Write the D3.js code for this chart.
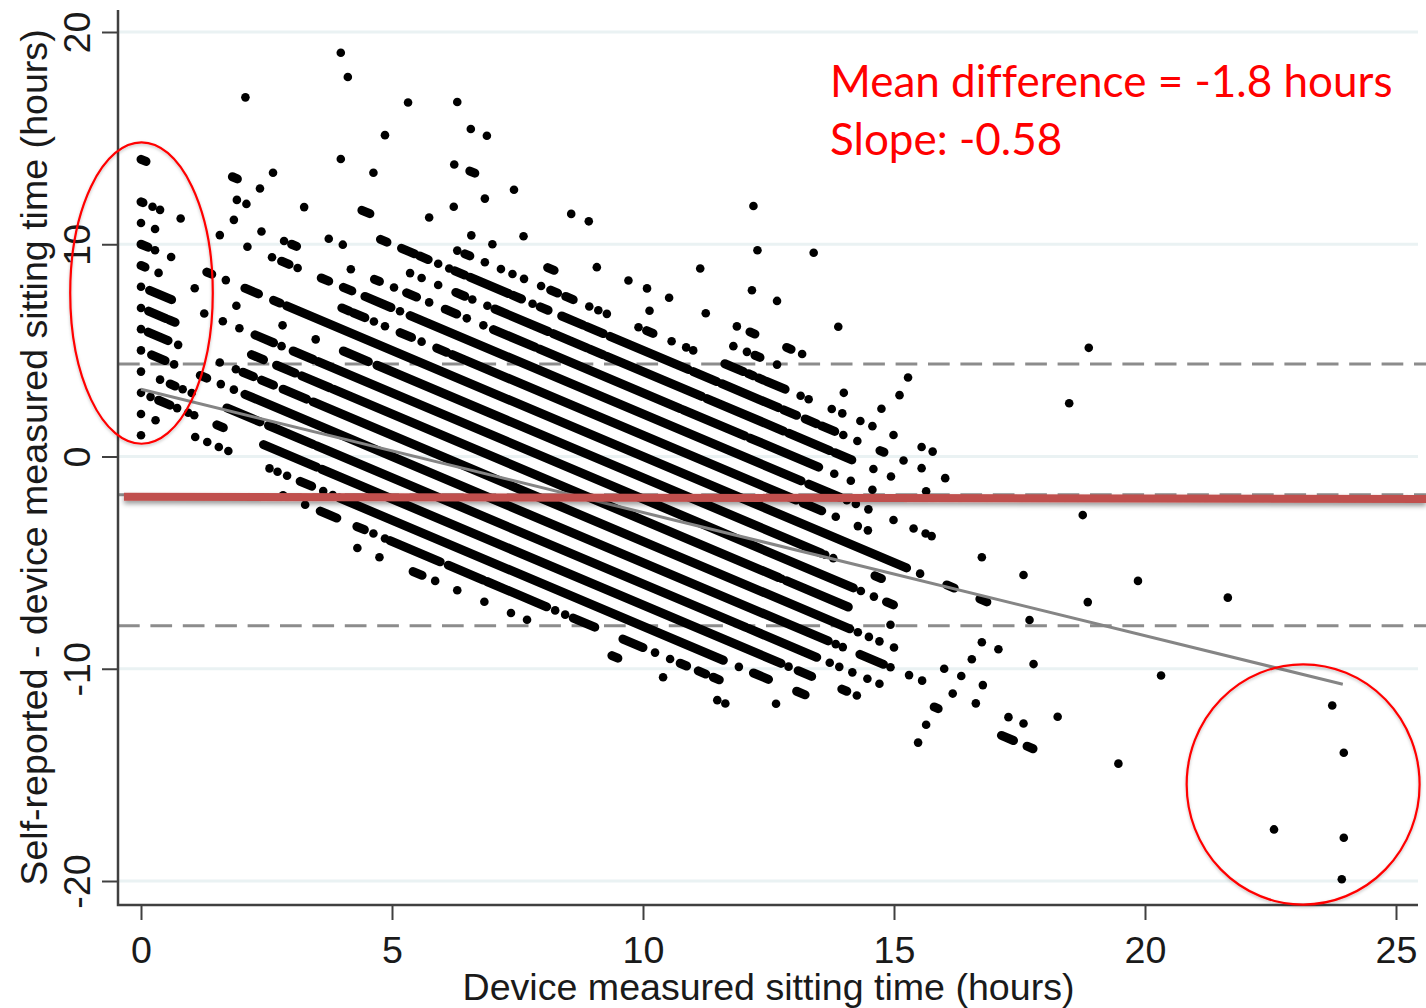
<!DOCTYPE html>
<html>
<head>
<meta charset="utf-8">
<script src="https://d3js.org/d3.v7.min.js"></script>
<style>
  html, body { margin: 0; padding: 0; background: #fff; overflow: hidden; }
  text { font-family: "Liberation Sans", Arial, sans-serif; fill: #1a1a1a; }
  .note { font-family: Lato, "Open Sans", sans-serif; fill: #ff0000; font-variant-ligatures: none; }
</style>
</head>
<body>
<div id="chart"></div>
<script>
// Self-reported hours: every point sits on a diagonal, difference = reported - device
const reportedHours = [0, 1, 2, 3, 4, 5, 6, 7, 8, 9, 10, 11, 12, 13, 14, 15, 16, 17, 18, 19, 20, 21, 22, 23, 24];

// Device hours per reported value, a number is one point, a pair is a run of touching points
const deviceHours = [
  [4.31, 4.75, [5.42, 5.6], 5.86, 6.3, 6.84, 7.37, 7.69, [9.38, 9.5], 10.4, 11.48, 11.64],
  [0, 2.83, 3.27, [3.57, 3.9], [4.3, 4.45], 4.63, 4.86, [4.96, 5.96], [6.12, 6.82], [6.89, 8.08], 8.25, 8.45, [8.61, 9.04], [9.6, 10], 10.24, 10.54, [10.74, 10.87], [11.1, 11.25], [11.4, 11.52], 12.65],
  [0, 0.29, 1.08, 1.32, 1.55, 1.74, 2.56, 2.72, 2.91, [3.17, 3.4], 3.63, 3.82, [3.95, 11.6], 11.91, [12.2, 12.5], [13.06, 13.23], 15.48],
  [0, 0.19, [0.35, 0.58], 0.72, 0.94, 1.06, [1.51, 1.64], [2.44, 3.5], [3.6, 12.75], 12.9, [13.09, 13.36], [13.96, 14.06], 14.26, 15.64],
  [0, 0.38, [0.58, 0.68], 0.83, 1.01, [1.71, 2.37], [2.54, 3.43], [3.5, 12.05], [12.1, 13.46], 13.72, 13.91, 14.17, 14.47, 14.71, [15.8, 15.88], [17.14, 17.38], [17.65, 17.77], 23.92],
  [0, [0.21, 0.48], 0.66, [1.18, 1.31], 1.59, 1.85, [2.07, 13.69], 13.84, 13.98, [14.32, 14.79], 14.93, 15.3, 15.56, 16.17, 16.63, 17.28, 17.58, 19.47, 22.57],
  [0, [0.14, 0.54], 0.74, 1.57, 1.89, [2.03, 2.24], [2.4, 2.64], [2.83, 3.3], [3.43, 14.12], 14.28, 14.5, 14.71, 15, 16, 16.34, 16.77, 18.26, 23.96],
  [0, [0.15, 0.5], [0.56, 0.68], [2.2, 2.44], [2.7, 3.07], [3.2, 3.76], [3.83, 12.7], 12.76, [12.85, 14.09], 14.93, 16.55],
  [0, [0.17, 0.61], 1.26, 1.63, 1.96, [2.27, 2.64], 2.8, [3.03, 3.43], [3.53, 14.19], 14.34, 14.6, [14.85, 14.99], 16.75, 17.08, 17.78],
  [[0, 0.08], 0.35, 1.07, 1.9, 2.82, 3.48, [4.03, 4.53], [4.7, 13.55], 13.63, 13.79, [14.62, 14.75]],
  [[0, 0.14], 0.28, 0.6, [1.31, 1.41], 1.69, [2.07, 2.34], [2.64, 2.77], [2.9, 15.25], 15.52, [16.05, 16.2], [16.71, 16.85], 17.7, 20.32, 23.96],
  [0, 0.28, [4, 4.15], [4.23, 4.46], 4.64, 4.86, [5.16, 5.39], 5.59, [5.89, 6.09], [6.2, 13.05], [13.19, 13.56], 13.84, 14.28, 14.48],
  [[0, 0.04], 0.23, 0.38, 0.79, 1.57, 2.12, 2.61, [2.8, 2.95], 3.12, [3.59, 3.74], [4.03, 4.2], [4.46, 4.98], 5.16, [5.36, 13.15], [13.3, 13.92], 14.06, 14.24, 14.49, 14.99, 15.39, 15.63, 15.75, 16.75, 17.58, 18.86, 23.73],
  [1.85, 2.4, 2.85, [3, 3.1], 4.18, [4.65, 4.75], 5.04, [5.29, 5.49], 5.74, [6.06, 6.29], 6.49, 6.82, [7.02, 7.85], [7.93, 10.74], [10.8, 12.03], [12.13, 13.5], 13.81, 14.14, 14.57],
  [[0, 0.1], 1.91, 2.1, 3.74, 4.02, 5.36, 5.59, 5.92, [6.27, 6.45], 6.6, 6.9, [7.05, 8.11], [8.21, 8.88], [8.94, 9.21], [9.28, 11.17], [11.27, 12.8], [12.9, 13.72], [13.82, 14.16], 14.59, 14.94, 15.64, 19.86],
  [[1.82, 1.92], 2.37, 3.25, [4.77, 4.9], [5.19, 5.45], [5.55, 5.72], 5.92, 6.14, [6.25, 6.45], [6.55, 7.32], [7.4, 7.58], 7.8, [7.95, 8.11], [8.38, 8.81], [8.88, 9.21], [9.34, 10.9], [11, 11.47], [11.57, 12.7], [12.8, 13.06], [13.23, 13.46], [13.56, 13.82], 13.99, 14.27, [14.72, 14.8], 15.19, 15.55, 16.02, 21.65],
  [2.63, [4.4, 4.56], 6.3, [6.45, 6.55], 6.85, 7.17, 7.4, 7.63, 7.97, [8.16, 8.3], [8.46, 8.61], 8.93, 9.11, 9.28, 9.91, [10.07, 10.2], 10.57, 10.86, 11, [11.63, 12], [12.1, 12.2], [12.3, 12.4], [12.46, 12.83], 13.14, 13.3, 13.76, 13.97, 14.33, 14.57, 14.99, 15.55, 15.77, 18.76],
  [5.74, 6.58, 7, [8.1, 8.23], 10.13, 11.8, 12.07, [12.23, 12.33], 12.67, 14, 14.75],
  [3.98, 4.63, 6.23, 7.62, 9.08, 9.71, 10.08, 10.52, 11.25, 11.87, [12.13, 12.23], [12.86, 12.95], 13.17, 15.11],
  [2.08, 6.85, 15.28],
  [4.86, 6.24, [6.55, 6.65], 7.43, 8.57, 8.92, 11.14, 12.17, 12.67, 13.89],
  [18.49],
  [4.12, 5.32, 6.57, 6.89, 12.28],
  [3.98, 6.3, 13.4],
  [12.2, 18.88]
];

const xTicks = [0, 5, 10, 15, 20, 25];
const yTicks = [-20, -10, 0, 10, 20];
const limitsOfAgreement = [4.36, -7.97];
const meanDifference = -1.8;
const fitX = [0, 23.94];
const fitY = [3.17, -10.73];
const meanBarX = [-0.34, 25.6];
const meanBarY = [-1.9, -2];

const noteLines = ["Mean difference = -1.8 hours", "Slope: -0.58"];
const xTitle = "Device measured sitting time (hours)";
const yTitle = "Self-reported - device measured sitting time (hours)";

const width = 1426;
const height = 1008;
const axisLeft = 118;
const axisRight = 1418;
const axisBottom = 905;
const axisTop = 10;

const x = d3.scaleLinear().domain([0, 25]).range([141, 1396]);
const y = d3.scaleLinear().domain([-20, 20]).range([881, 32]);

// Split each row into single points and runs
const singles = [];
const runs = [];
reportedHours.forEach((reported, i) => {
  deviceHours[i].forEach(d => {
    if (Array.isArray(d)) {
      runs.push({ reported, from: d[0], to: d[1] });
    } else {
      singles.push({ reported, device: d });
    }
  });
});

const svg = d3.select("#chart").append("svg")
  .attr("width", width)
  .attr("height", height)
  .style("display", "block");

const defs = svg.append("defs");
const addShadow = (id, dy, blur, opacity) => {
  defs.append("filter").attr("id", id)
    .attr("filterUnits", "userSpaceOnUse")
    .attr("x", 0).attr("y", 0).attr("width", width).attr("height", height)
    .append("feDropShadow")
    .attr("dx", 0).attr("dy", dy).attr("stdDeviation", blur)
    .attr("flood-color", "#000").attr("flood-opacity", opacity);
};
addShadow("shadow", 3, 2.5, 0.4);
addShadow("ringShadow", 1.5, 1.5, 0.25);

// Grid lines
svg.append("g").selectAll("line")
  .data(yTicks)
  .join("line")
  .attr("x1", axisLeft)
  .attr("x2", axisRight)
  .attr("y1", d => y(d))
  .attr("y2", d => y(d))
  .attr("stroke", "#eaf2f3")
  .attr("stroke-width", 3);

// Dashed limits and the mean underneath the red bar
svg.append("g").selectAll("line")
  .data(limitsOfAgreement.concat([meanDifference]))
  .join("line")
  .attr("x1", axisLeft)
  .attr("x2", width)
  .attr("y1", d => y(d))
  .attr("y2", d => y(d))
  .attr("stroke", "#8c8c8c")
  .attr("stroke-width", 3)
  .attr("stroke-dasharray", "21.7 10.7");

// Points
const diff = (reported, device) => reported - device;

svg.append("g").selectAll("line")
  .data(runs)
  .join("line")
  .attr("x1", d => x(d.from))
  .attr("y1", d => y(diff(d.reported, d.from)))
  .attr("x2", d => x(d.to))
  .attr("y2", d => y(diff(d.reported, d.to)))
  .attr("stroke", "#000")
  .attr("stroke-width", 9)
  .attr("stroke-linecap", "round");

svg.append("g").selectAll("circle")
  .data(singles)
  .join("circle")
  .attr("cx", d => x(d.device))
  .attr("cy", d => y(diff(d.reported, d.device)))
  .attr("r", 4.3)
  .attr("fill", "#000");

// Fitted line
svg.append("line")
  .attr("x1", x(fitX[0])).attr("y1", y(fitY[0]))
  .attr("x2", x(fitX[1])).attr("y2", y(fitY[1]))
  .attr("stroke", "#858585")
  .attr("stroke-width", 3);

// Axes
const yAxis = d3.axisLeft(y).tickValues(yTicks).tickSize(16).tickPadding(12).tickFormat(String);
const xAxis = d3.axisBottom(x).tickValues(xTicks).tickSize(15).tickPadding(16).tickFormat(String);

const yG = svg.append("g").attr("transform", `translate(${axisLeft},0)`).call(yAxis);
const xG = svg.append("g").attr("transform", `translate(0,${axisBottom})`).call(xAxis);

yG.select(".domain").remove();
xG.select(".domain").remove();
yG.selectAll(".tick line").attr("stroke", "#404040").attr("stroke-width", 2);
xG.selectAll(".tick line").attr("stroke", "#404040").attr("stroke-width", 2);

yG.selectAll(".tick text")
  .attr("font-size", 37.6)
  .attr("text-anchor", "middle")
  .attr("dy", 0)
  .attr("x", 0)
  .attr("y", 0)
  .attr("transform", "translate(-28,0) rotate(-90)");
xG.selectAll(".tick text").attr("font-size", 37.6).attr("dy", "0.71em");

svg.append("path")
  .attr("d", `M${axisLeft},${axisTop}V${axisBottom}H${axisRight}`)
  .attr("fill", "none")
  .attr("stroke", "#404040")
  .attr("stroke-width", 2.5);

svg.append("text")
  .attr("x", 768.5)
  .attr("y", 1000)
  .attr("text-anchor", "middle")
  .attr("font-size", 37.6)
  .text(xTitle);

svg.append("text")
  .attr("transform", "translate(47,457.5) rotate(-90)")
  .attr("text-anchor", "middle")
  .attr("font-size", 37.6)
  .text(yTitle);

// Annotations laid over the figure
svg.append("line")
  .attr("x1", x(meanBarX[0])).attr("y1", y(meanBarY[0]))
  .attr("x2", x(meanBarX[1])).attr("y2", y(meanBarY[1]))
  .attr("stroke", "#c0504d")
  .attr("stroke-width", 8)
  .attr("filter", "url(#shadow)");

const rings = [
  { cx: 0.01, cy: 7.7, rx: 1.42, ry: 7.1 },
  { cx: 23.15, cy: -15.45, rx: 2.32, ry: 5.66 }
];

svg.append("g").selectAll("ellipse")
  .data(rings)
  .join("ellipse")
  .attr("cx", d => x(d.cx))
  .attr("cy", d => y(d.cy))
  .attr("rx", d => x(d.cx + d.rx) - x(d.cx))
  .attr("ry", d => y(d.cy - d.ry) - y(d.cy))
  .attr("fill", "none")
  .attr("stroke", "#ff0000")
  .attr("stroke-width", 2.2)
  .attr("filter", "url(#ringShadow)");

svg.append("g").selectAll("text")
  .data(noteLines)
  .join("text")
  .attr("class", "note")
  .attr("x", 830)
  .attr("y", (d, i) => 97 + i * 57.5)
  .attr("font-size", 44)
  .text(d => d);
</script>
</body>
</html>
